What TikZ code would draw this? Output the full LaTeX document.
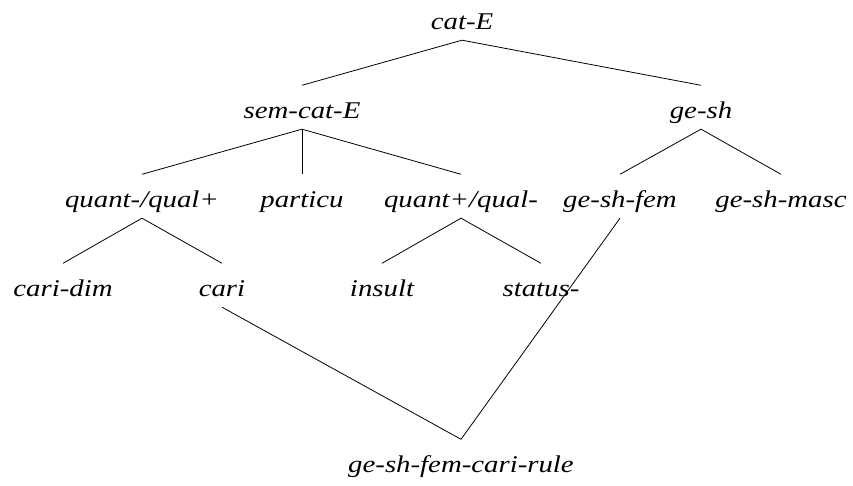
\documentclass[tikz,border=0pt]{standalone}
\usepackage{fontspec}
\setmainfont{Liberation Serif}[FakeStretch=1.2]
\begin{document}
\begin{tikzpicture}[x=1pt,y=1pt,
  lbl/.style={inner sep=0pt, text height=33.5pt, text depth=10pt, anchor=base,
    font=\fontsize{24}{28}\selectfont\itshape},
  link/.style={line width=0.8pt}]
\useasboundingbox (0,0) rectangle (853,486);
\node[lbl] (catE) at (462,456) {cat-E};
\node[lbl] (semcatE) at (302,367) {sem-cat-E};
\node[lbl] (gesh) at (701,367) {ge-sh};
\node[lbl] (qmq) at (142,278) {quant-/qual+};
\node[lbl] (particu) at (302,278) {particu};
\node[lbl] (qpq) at (461,278) {quant+/qual-};
\node[lbl] (fem) at (620,278) {ge-sh-fem};
\node[lbl] (masc) at (781,278) {ge-sh-masc};
\node[lbl] (caridim) at (63,189) {cari-dim};
\node[lbl] (cari) at (222,189) {cari};
\node[lbl] (insult) at (382,189) {insult};
\node[lbl] (status) at (541,189) {status-};
\node[lbl] (rule) at (461,13) {ge-sh-fem-cari-rule};
\draw[link] (semcatE.north) -- (catE.south) -- (gesh.north);
\draw[link] (qmq.north) -- (semcatE.south) -- (qpq.north);
\draw[link] (semcatE.south) -- (particu.north);
\draw[link] (fem.north) -- (gesh.south) -- (masc.north);
\draw[link] (caridim.north) -- (qmq.south) -- (cari.north);
\draw[link] (insult.north) -- (qpq.south) -- (status.north);
\draw[link] (cari.south) -- (rule.north) -- (fem.south);
\end{tikzpicture}
\end{document}
